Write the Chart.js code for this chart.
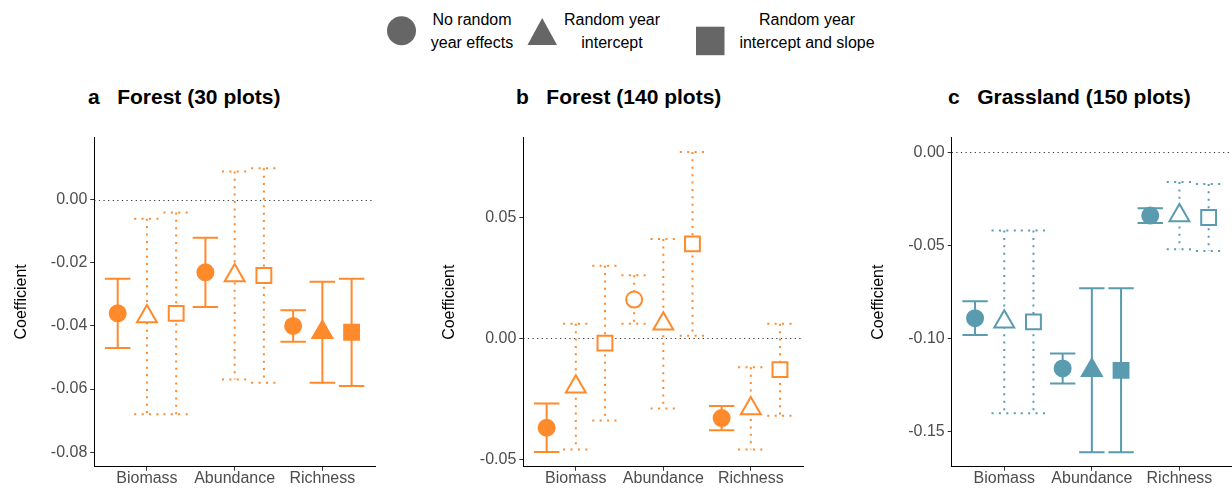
<!DOCTYPE html>
<html>
<head>
<meta charset="utf-8">
<script src="https://cdn.jsdelivr.net/npm/chart.js@4.4.1/dist/chart.umd.min.js"></script>
<style>
  body { margin: 0; width: 1232px; height: 488px; background: #fff; overflow: hidden; position: relative;
         font-family: "Liberation Sans", Arial, Helvetica, sans-serif; }
  .cv { position: absolute; top: 130px; height: 358px; }
  .title { position: absolute; top: 84px; font-size: 21px; font-weight: bold; color: #000; white-space: pre; line-height: 26px; }
  .lg { position: absolute; top: 8px; width: 180px; text-align: center; font-size: 16px; line-height: 23px; color: #000; }
</style>
</head>
<body>
<svg style="position:absolute;left:0;top:0" width="900" height="60">
  <circle cx="401.5" cy="30.8" r="14.5" fill="#666"/>
  <polygon points="527.5,45 557,45 542.2,18" fill="#666"/>
  <rect x="696" y="26.7" width="28.5" height="28.5" fill="#666"/>
</svg>
<div class="lg" style="left:382px">No random<br>year effects</div>
<div class="lg" style="left:522px">Random year<br>intercept</div>
<div class="lg" style="left:717px">Random year<br>intercept and slope</div>

<div class="title" style="left:88px">a   Forest (30 plots)</div>
<div class="title" style="left:516px">b   Forest (140 plots)</div>
<div class="title" style="left:948px">c   Grassland (150 plots)</div>

<canvas id="chartA" class="cv" style="left:0;width:410px" width="410" height="358"></canvas>
<canvas id="chartB" class="cv" style="left:410px;width:410px" width="410" height="358"></canvas>
<canvas id="chartC" class="cv" style="left:820px;width:412px" width="412" height="358"></canvas>

<script>
const categories = ["Biomass", "Abundance", "Richness"];
const models = ["No random year effects", "Random year intercept", "Random year intercept and slope"];

// values indexed [category][model]
const aEst  = [[-0.036, -0.037, -0.036], [-0.023, -0.024, -0.024], [-0.040, -0.042, -0.042]];
const aLow  = [[-0.047, -0.068, -0.068], [-0.034, -0.057, -0.058], [-0.045, -0.058, -0.059]];
const aHigh = [[-0.025, -0.006, -0.004], [-0.012,  0.009,  0.010], [-0.035, -0.026, -0.025]];
const aSig  = [[true, false, false], [true, false, false], [true, true, true]];
const aTicks = [-0.08, -0.06, -0.04, -0.02, 0.00];

const bEst  = [[-0.037, -0.020, -0.002], [0.016, 0.006, 0.039], [-0.033, -0.029, -0.013]];
const bLow  = [[-0.047, -0.046, -0.034], [0.006, -0.029, 0.001], [-0.038, -0.046, -0.032]];
const bHigh = [[-0.027,  0.006,  0.030], [0.026,  0.041, 0.077], [-0.028, -0.012,  0.006]];
const bSig  = [[true, false, false], [false, false, false], [true, false, false]];
const bTicks = [-0.05, 0.00, 0.05];

const cEst  = [[-0.089, -0.091, -0.091], [-0.116, -0.117, -0.117], [-0.034, -0.034, -0.035]];
const cLow  = [[-0.098, -0.140, -0.140], [-0.124, -0.161, -0.161], [-0.038, -0.052, -0.053]];
const cHigh = [[-0.080, -0.042, -0.042], [-0.108, -0.073, -0.073], [-0.030, -0.016, -0.017]];
const cSig  = [[true, false, false], [true, true, true], [true, false, false]];
const cTicks = [-0.15, -0.10, -0.05, 0.00];

const orange = "#FF8A2B";
const teal = "#5A9BB0";

Chart.defaults.font.family = '"Liberation Sans", Arial, Helvetica, sans-serif';

const offsets = [-1 / 3, 0, 1 / 3];
const styles = ["circle", "triangle", "rect"];
const radii = [8, 11.5, 10.5];
const capWidth = 0.29;

// draws the zero line and the error bars, under the points
const errorBars = {
  id: "errorBars",
  beforeDatasetsDraw(chart, args, opts) {
    const { ctx, chartArea, scales: { x, y } } = chart;
    ctx.save();
    ctx.strokeStyle = "#333";
    ctx.lineWidth = 1.2;
    ctx.setLineDash([1.2, 3.4]);
    const y0 = Math.round(y.getPixelForValue(0)) + 0.5;
    ctx.beginPath();
    ctx.moveTo(chartArea.left, y0);
    ctx.lineTo(chartArea.right, y0);
    ctx.stroke();

    ctx.strokeStyle = opts.color;
    ctx.lineWidth = 2;
    chart.data.datasets.forEach((ds, m) => {
      ds.data.forEach((p, i) => {
        const xp = x.getPixelForValue(p.x);
        const half = x.getPixelForValue(p.x + capWidth / 2) - xp;
        const lo = y.getPixelForValue(opts.low[i][m]);
        const hi = y.getPixelForValue(opts.high[i][m]);
        ctx.setLineDash(opts.sig[i][m] ? [] : [2, 5.4]);
        ctx.beginPath();
        ctx.moveTo(xp, hi);
        ctx.lineTo(xp, lo);
        ctx.moveTo(xp - half, hi);
        ctx.lineTo(xp + half, hi);
        ctx.moveTo(xp - half, lo);
        ctx.lineTo(xp + half, lo);
        ctx.stroke();
      });
    });
    ctx.restore();
  }
};

function noPad(s) {
  s.paddingTop = 0;
  s.paddingBottom = 0;
  s.paddingLeft = 0;
  s.paddingRight = 0;
}

function makePanel(id, est, low, high, sig, ticks, color, yMin, yMax, yWidth, padTop, padRight, titlePad) {
  const datasets = models.map((name, m) => ({
    label: name,
    data: categories.map((c, i) => ({ x: i + 1 + offsets[m], y: est[i][m] })),
    pointStyle: styles[m],
    pointRadius: radii[m],
    pointBorderWidth: 2,
    pointBorderColor: color,
    pointBackgroundColor: categories.map((c, i) => sig[i][m] ? color : "#fff"),
    showLine: false,
    clip: false
  }));

  new Chart(document.getElementById(id), {
    type: "scatter",
    data: { datasets },
    plugins: [errorBars],
    options: {
      responsive: false,
      animation: false,
      events: [],
      layout: { autoPadding: false, padding: { top: padTop, right: padRight, left: 0, bottom: 0 } },
      plugins: {
        legend: { display: false },
        tooltip: { enabled: false },
        errorBars: { low, high, sig, color }
      },
      scales: {
        x: {
          type: "linear",
          min: 0.4,
          max: 3.6,
          afterBuildTicks: s => { s.ticks = categories.map((c, i) => ({ value: i + 1 })); },
          afterFit: s => { s.height = 21.3; noPad(s); },
          ticks: {
            callback: (v, i) => categories[i],
            color: "#4d4d4d",
            font: { size: 16 },
            padding: -2,
            autoSkip: false,
            maxRotation: 0
          },
          grid: { drawOnChartArea: false, tickLength: 4, color: "#333" },
          border: { color: "#000", width: 1 }
        },
        y: {
          min: yMin,
          max: yMax,
          afterBuildTicks: s => { s.ticks = ticks.map(v => ({ value: v })); },
          afterFit: s => { s.width = yWidth; noPad(s); },
          ticks: {
            callback: v => v.toFixed(2),
            color: "#4d4d4d",
            font: { size: 16 },
            padding: 3
          },
          grid: { drawOnChartArea: false, tickLength: 4, color: "#333" },
          border: { color: "#000", width: 1 },
          title: { display: true, text: "Coefficient", color: "#000", font: { size: 16 }, padding: { top: titlePad + 1.5, bottom: 0 } }
        }
      }
    }
  });
}

makePanel("chartA", aEst, aLow, aHigh, aSig, aTicks, orange, -0.0846, 0.0199, 94.3, 7, 35, 10.4);
makePanel("chartB", bEst, bLow, bHigh, bSig, bTicks, orange, -0.0531, 0.0829, 113.3, 7.7, 16.7, 28.4);
makePanel("chartC", cEst, cLow, cHigh, cSig, cTicks, teal, -0.1687, 0.0078, 131.7, 7.7, 0, 47.1);
</script>
</body>
</html>
